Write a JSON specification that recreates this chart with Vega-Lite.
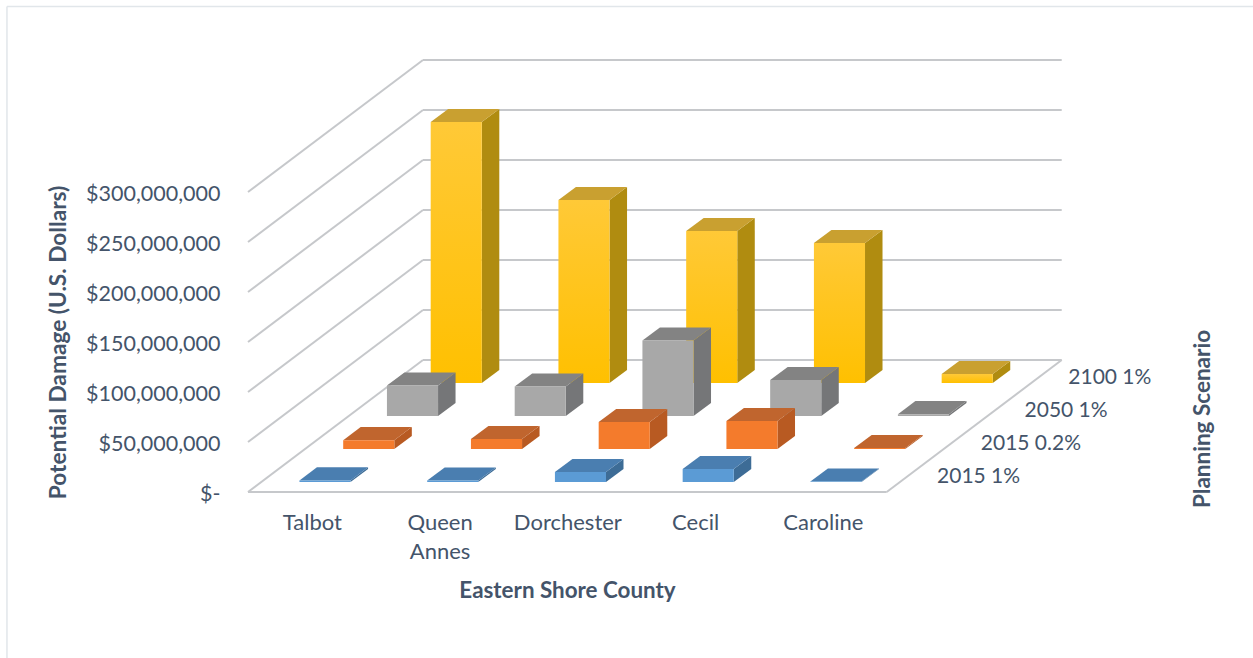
{"$schema":"https://vega.github.io/schema/vega-lite/v6.json","width":1253,"height":658,"padding":0,"autosize":{"type":"none"},"background":"#ffffff","config":{"view":{"stroke":null},"font":"Lato"},"datasets":{"grid":[{"value":0},{"value":50000000},{"value":100000000},{"value":150000000},{"value":200000000},{"value":250000000},{"value":300000000}],"scenarios":[{"scenario":"2015 1%"},{"scenario":"2015 0.2%"},{"scenario":"2050 1%"},{"scenario":"2100 1%"}]},"data":{"values":[{"county":"Talbot","scenario":"2015 1%","value":1600000},{"county":"Queen Annes","scenario":"2015 1%","value":1500000},{"county":"Dorchester","scenario":"2015 1%","value":10000000},{"county":"Cecil","scenario":"2015 1%","value":13000000},{"county":"Caroline","scenario":"2015 1%","value":500000},{"county":"Talbot","scenario":"2015 0.2%","value":8800000},{"county":"Queen Annes","scenario":"2015 0.2%","value":10000000},{"county":"Dorchester","scenario":"2015 0.2%","value":27000000},{"county":"Cecil","scenario":"2015 0.2%","value":28000000},{"county":"Caroline","scenario":"2015 0.2%","value":1000000},{"county":"Talbot","scenario":"2050 1%","value":30500000},{"county":"Queen Annes","scenario":"2050 1%","value":29500000},{"county":"Dorchester","scenario":"2050 1%","value":75500000},{"county":"Cecil","scenario":"2050 1%","value":36000000},{"county":"Caroline","scenario":"2050 1%","value":1800000},{"county":"Talbot","scenario":"2100 1%","value":261000000},{"county":"Queen Annes","scenario":"2100 1%","value":183000000},{"county":"Dorchester","scenario":"2100 1%","value":152000000},{"county":"Cecil","scenario":"2100 1%","value":140000000},{"county":"Caroline","scenario":"2100 1%","value":9000000}]},"transform":[{"calculate":"indexof(['Talbot','Queen Annes','Dorchester','Cecil','Caroline'],datum.county)","as":"c"},{"calculate":"indexof(['2015 1%','2015 0.2%','2050 1%','2100 1%'],datum.scenario)","as":"s"},{"calculate":"datum.c+0.3+(datum.s+0.3)*0.3425","as":"fx"},{"calculate":"(datum.s+0.3)*33000000","as":"fy"},{"calculate":"datum.fx+0.4","as":"fr"},{"calculate":"datum.fy+datum.value","as":"ft"},{"calculate":"[0,1]","as":"end"},{"flatten":["end"]},{"calculate":"datum.fx+datum.end*0.137","as":"tl"},{"calculate":"datum.fr+datum.end*0.137","as":"tr"},{"calculate":"datum.ft+datum.end*13200000","as":"ty"},{"calculate":"datum.fy+datum.end*13200000","as":"by"}],"layer":[{"data":{"values":[{"side":"left"}]},"mark":{"type":"rule","color":"#e1e6ea","strokeWidth":1.5},"encoding":{"x":{"datum":-1.887,"type":"quantitative","scale":{"domain":[-1.9414,7.8675],"nice":false,"zero":false},"axis":{"values":[0.5,1.5,2.5,3.5,4.5],"labelExpr":"[['Talbot'],['Queen','Annes'],['Dorchester'],['Cecil'],['Caroline']][datum.value-0.5]","orient":"bottom","offset":-146,"ticks":false,"domain":false,"grid":false,"labelPadding":0,"labelFont":"Lato","labelFontSize":22,"labelColor":"#44546a","labelOverlap":false,"labelBound":false,"labelFlush":false,"labelLineHeight":29,"labelBaseline":"top","title":"Eastern Shore County","titleX":567,"titleY":78,"titleAlign":"center","titleBaseline":"middle","titleFont":"Lato","titleFontSize":22.4,"titleFontWeight":"bold","titleColor":"#44546a"}},"y":{"datum":-166000000,"type":"quantitative","scale":{"domain":[-166000000,492000000],"nice":false,"zero":false},"axis":{"values":[0,50000000,100000000,150000000,200000000,250000000,300000000],"labelExpr":"datum.value==0?'$-\u00a0\u00a0\u00a0':format(datum.value,'$,.0f')","orient":"left","offset":-220,"ticks":false,"domain":false,"grid":false,"labelPadding":0,"labelOffset":2,"labelFont":"Lato","labelFontSize":21.5,"labelColor":"#44546a","labelOverlap":false,"labelBound":false,"labelFlush":false,"title":"Potential Damage (U.S. Dollars)","titleX":-162,"titleY":342,"titleAngle":-90,"titleAlign":"center","titleBaseline":"middle","titleFont":"Lato","titleFontSize":22.7,"titleFontWeight":"bold","titleColor":"#44546a"}},"y2":{"datum":485500000}}},{"data":{"values":[{"side":"top"}]},"mark":{"type":"rule","color":"#e1e6ea","strokeWidth":1.5},"encoding":{"x":{"datum":-1.887,"type":"quantitative"},"x2":{"datum":7.8675},"y":{"datum":485500000,"type":"quantitative"}}},{"data":{"name":"grid"},"transform":[{"calculate":"datum.value+132000000","as":"back"}],"mark":{"type":"rule","color":"#c6c8cb","strokeWidth":2},"encoding":{"x":{"datum":0,"type":"quantitative"},"x2":{"datum":1.37},"y":{"field":"value","type":"quantitative"},"y2":{"field":"back"}}},{"data":{"name":"grid"},"transform":[{"calculate":"datum.value+132000000","as":"back"}],"mark":{"type":"rule","color":"#c6c8cb","strokeWidth":2},"encoding":{"x":{"datum":1.37,"type":"quantitative"},"x2":{"datum":6.37},"y":{"field":"back","type":"quantitative"}}},{"data":{"name":"grid"},"transform":[{"filter":"datum.value==0"}],"mark":{"type":"rule","color":"#c6c8cb","strokeWidth":2},"encoding":{"x":{"datum":0,"type":"quantitative"},"x2":{"datum":5},"y":{"field":"value","type":"quantitative"}}},{"data":{"name":"grid"},"transform":[{"filter":"datum.value==0"},{"calculate":"datum.value+132000000","as":"back"}],"mark":{"type":"rule","color":"#c6c8cb","strokeWidth":2},"encoding":{"x":{"datum":5,"type":"quantitative"},"x2":{"datum":6.37},"y":{"field":"value","type":"quantitative"},"y2":{"field":"back"}}},{"data":{"name":"scenarios"},"transform":[{"calculate":"indexof(['2015 1%','2015 0.2%','2050 1%','2100 1%'],datum.scenario)","as":"s"},{"calculate":"5+(datum.s+1.15)*0.3425","as":"lx"},{"calculate":"(datum.s+0.45)*33000000","as":"ly"}],"mark":{"type":"text","align":"left","baseline":"middle","font":"Lato","fontSize":21,"color":"#44546a"},"encoding":{"x":{"field":"lx","type":"quantitative"},"y":{"field":"ly","type":"quantitative"},"text":{"field":"scenario"}}},{"data":{"values":[{"label":"Planning Scenario"}]},"mark":{"type":"text","align":"center","baseline":"middle","angle":270,"font":"Lato","fontSize":22.5,"fontWeight":"bold","color":"#44546a"},"encoding":{"x":{"datum":7.476,"type":"quantitative"},"y":{"datum":73000000,"type":"quantitative"},"text":{"field":"label"}}},
{"transform":[{"filter":"datum.s==3"}],"mark":{"type":"area","orient":"vertical","color":"#b08c10"},"encoding":{"x":{"field":"tr","type":"quantitative"},"y":{"field":"by","type":"quantitative"},"y2":{"field":"ty"},"detail":{"field":"county"}}},
{"transform":[{"filter":"datum.s==3"}],"mark":{"type":"area","orient":"horizontal","color":"#c9a030"},"encoding":{"y":{"field":"ty","type":"quantitative"},"x":{"field":"tl","type":"quantitative"},"x2":{"field":"tr"},"detail":{"field":"county"}}},
{"transform":[{"filter":"datum.s==3 && datum.end==0"}],"mark":{"type":"rect","color":{"gradient":"linear","x1":0,"y1":0,"x2":0,"y2":1,"stops":[{"offset":0,"color":"#ffc937"},{"offset":1,"color":"#ffc000"}]}},"encoding":{"x":{"field":"fx","type":"quantitative"},"x2":{"field":"fr"},"y":{"field":"fy","type":"quantitative"},"y2":{"field":"ft"}}},
{"transform":[{"filter":"datum.s==2"}],"mark":{"type":"area","orient":"vertical","color":"#757678"},"encoding":{"x":{"field":"tr","type":"quantitative"},"y":{"field":"by","type":"quantitative"},"y2":{"field":"ty"},"detail":{"field":"county"}}},
{"transform":[{"filter":"datum.s==2"}],"mark":{"type":"area","orient":"horizontal","color":"#838383"},"encoding":{"y":{"field":"ty","type":"quantitative"},"x":{"field":"tl","type":"quantitative"},"x2":{"field":"tr"},"detail":{"field":"county"}}},
{"transform":[{"filter":"datum.s==2 && datum.end==0"}],"mark":{"type":"rect","color":"#a8a8a8"},"encoding":{"x":{"field":"fx","type":"quantitative"},"x2":{"field":"fr"},"y":{"field":"fy","type":"quantitative"},"y2":{"field":"ft"}}},
{"transform":[{"filter":"datum.s==1"}],"mark":{"type":"area","orient":"vertical","color":"#b85a22"},"encoding":{"x":{"field":"tr","type":"quantitative"},"y":{"field":"by","type":"quantitative"},"y2":{"field":"ty"},"detail":{"field":"county"}}},
{"transform":[{"filter":"datum.s==1"}],"mark":{"type":"area","orient":"horizontal","color":"#c0652e"},"encoding":{"y":{"field":"ty","type":"quantitative"},"x":{"field":"tl","type":"quantitative"},"x2":{"field":"tr"},"detail":{"field":"county"}}},
{"transform":[{"filter":"datum.s==1 && datum.end==0"}],"mark":{"type":"rect","color":"#f47b2c"},"encoding":{"x":{"field":"fx","type":"quantitative"},"x2":{"field":"fr"},"y":{"field":"fy","type":"quantitative"},"y2":{"field":"ft"}}},
{"transform":[{"filter":"datum.s==0"}],"mark":{"type":"area","orient":"vertical","color":"#3d6c96"},"encoding":{"x":{"field":"tr","type":"quantitative"},"y":{"field":"by","type":"quantitative"},"y2":{"field":"ty"},"detail":{"field":"county"}}},
{"transform":[{"filter":"datum.s==0"}],"mark":{"type":"area","orient":"horizontal","color":"#4a7eb0"},"encoding":{"y":{"field":"ty","type":"quantitative"},"x":{"field":"tl","type":"quantitative"},"x2":{"field":"tr"},"detail":{"field":"county"}}},
{"transform":[{"filter":"datum.s==0 && datum.end==0"}],"mark":{"type":"rect","color":"#5b9bd5"},"encoding":{"x":{"field":"fx","type":"quantitative"},"x2":{"field":"fr"},"y":{"field":"fy","type":"quantitative"},"y2":{"field":"ft"}}}
]}
